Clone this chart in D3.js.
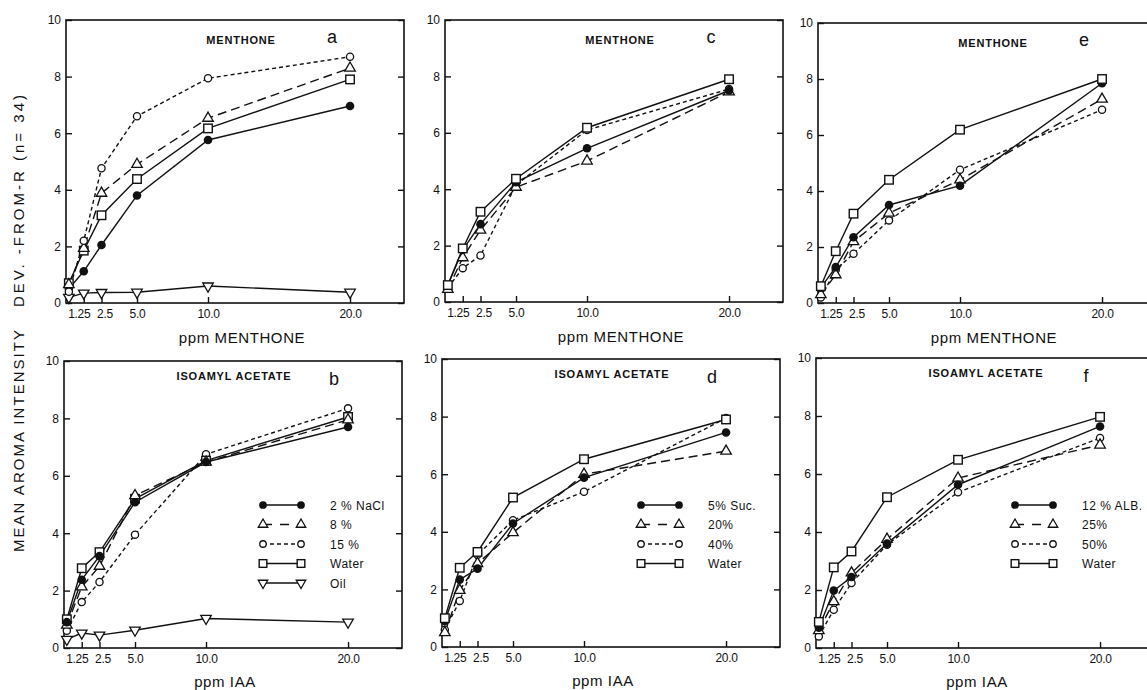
<!DOCTYPE html>
<html>
<head>
<meta charset="utf-8">
<script src="https://cdn.jsdelivr.net/npm/d3@7"></script>
<style>
  body { margin: 0; background: white; }
  text { font-family: "Liberation Sans", Arial, sans-serif; fill: #111; }
</style>
</head>
<body>
<div id="plot"></div>
<script>
// concentrations (ppm) and tick labels
const conc = [0.2, 1.25, 2.5, 5, 10, 20];
const xTicks = [1.25, 2.5, 5, 10, 20];
const xTickLabels = ["1.25", "2.5", "5.0", "10.0", "20.0"];
const yTicks = [0, 2, 4, 6, 8, 10];

// panel a : menthone, NaCl
const aNaCl2 = [0.5, 1.12, 2.05, 3.8, 5.76, 6.96];
const aNaCl8 = [0.65, 1.93, 3.88, 4.9, 6.53, 8.3];
const aNaCl15 = [0.4, 2.2, 4.76, 6.6, 7.94, 8.7];
const aWater = [0.7, 1.85, 3.1, 4.38, 6.17, 7.9];
const aOil = [0.2, 0.35, 0.37, 0.38, 0.6, 0.38];

// panel b : isoamyl acetate, NaCl
const bNaCl2 = [0.9, 2.38, 3.2, 5.08, 6.48, 7.7];
const bNaCl8 = [0.8, 2.13, 2.85, 5.31, 6.48, 7.95];
const bNaCl15 = [0.6, 1.6, 2.3, 3.95, 6.75, 8.35];
const bWater = [1.0, 2.78, 3.34, 5.2, 6.53, 8.05];
const bOil = [0.3, 0.52, 0.45, 0.62, 1.03, 0.9];

// panel c : menthone, sucrose
const cSuc5 = [0.6, 1.85, 2.76, 4.25, 5.45, 7.5];
const cSuc20 = [0.45, 1.57, 2.55, 4.07, 5.0, 7.45];
const cSuc40 = [0.5, 1.2, 1.65, 4.15, 6.1, 7.55];
const cWater = [0.6, 1.9, 3.2, 4.37, 6.18, 7.9];

// panel d : isoamyl acetate, sucrose
const dSuc5 = [0.9, 2.34, 2.72, 4.29, 5.88, 7.45];
const dSuc20 = [0.5, 1.97, 2.9, 3.97, 6.0, 6.8];
const dSuc40 = [0.6, 1.6, 3.2, 4.4, 5.39, 7.95];
const dWater = [1.0, 2.75, 3.3, 5.19, 6.52, 7.9];

// panel e : menthone, albumin
const eAlb12 = [0.55, 1.28, 2.35, 3.5, 4.19, 7.85];
const eAlb25 = [0.3, 1.01, 2.19, 3.21, 4.4, 7.28];
const eAlb50 = [0.2, 1.19, 1.76, 2.95, 4.76, 6.9];
const eWater = [0.6, 1.85, 3.19, 4.4, 6.19, 8.0];

// panel f : isoamyl acetate, albumin
const fAlb12 = [0.7, 1.98, 2.45, 3.6, 5.63, 7.64];
const fAlb25 = [0.6, 1.6, 2.59, 3.75, 5.86, 7.0];
const fAlb50 = [0.4, 1.32, 2.24, 3.56, 5.37, 7.24];
const fWater = [0.9, 2.78, 3.33, 5.2, 6.49, 7.97];

// marker / line styles
const styles = {
  filled: { sym: "circle", dash: null },
  tri: { sym: "triangle", dash: "9,5" },
  open: { sym: "open", dash: "4,3" },
  square: { sym: "square", dash: null },
  down: { sym: "down", dash: null }
};

const panels = [
  { left: 66, top: 20, bottom: 303, title: "MENTHONE", letter: "a", xTitle: "ppm MENTHONE",
    series: [["down", aOil], ["filled", aNaCl2], ["square", aWater], ["tri", aNaCl8], ["open", aNaCl15]] },
  { left: 445, top: 20, bottom: 302, title: "MENTHONE", letter: "c", xTitle: "ppm MENTHONE",
    series: [["open", cSuc40], ["tri", cSuc20], ["filled", cSuc5], ["square", cWater]] },
  { left: 818, top: 23, bottom: 303, title: "MENTHONE", letter: "e", xTitle: "ppm MENTHONE",
    series: [["open", eAlb50], ["tri", eAlb25], ["filled", eAlb12], ["square", eWater]] },
  { left: 64, top: 361, bottom: 648, title: "ISOAMYL ACETATE", letter: "b", xTitle: "ppm IAA",
    series: [["down", bOil], ["open", bNaCl15], ["square", bWater], ["tri", bNaCl8], ["filled", bNaCl2]],
    legend: [["filled", "2 % NaCl"], ["tri", "8 %"], ["open", "15 %"], ["square", "Water"], ["down", "Oil"]] },
  { left: 442, top: 359, bottom: 647, title: "ISOAMYL ACETATE", letter: "d", xTitle: "ppm IAA",
    series: [["open", dSuc40], ["tri", dSuc20], ["filled", dSuc5], ["square", dWater]],
    legend: [["filled", "5% Suc."], ["tri", "20%"], ["open", "40%"], ["square", "Water"]] },
  { left: 816, top: 358, bottom: 648, title: "ISOAMYL ACETATE", letter: "f", xTitle: "ppm IAA",
    series: [["open", fAlb50], ["tri", fAlb25], ["filled", fAlb12], ["square", fWater]],
    legend: [["filled", "12 % ALB."], ["tri", "25%"], ["open", "50%"], ["square", "Water"]] }
];

// small horizontal nudges for the crowded tick labels
const tickNudge = [-5, 3, 0, 0, 0];

const svg = d3.select("#plot").append("svg")
  .attr("width", 1147)
  .attr("height", 690)
  .style("background", "white");

function drawMarker(g, kind, x, y, small) {
  const k = small ? 0.9 : 1;
  if (kind === "circle") {
    g.append("circle").attr("cx", x).attr("cy", y).attr("r", 4.3 * k).attr("fill", "#111");
  } else if (kind === "open") {
    g.append("circle").attr("cx", x).attr("cy", y).attr("r", 3.6 * k)
      .attr("fill", "white").attr("stroke", "#111").attr("stroke-width", 1.3);
  } else if (kind === "square") {
    const s = 8.5 * k;
    g.append("rect").attr("x", x - s / 2).attr("y", y - s / 2).attr("width", s).attr("height", s)
      .attr("fill", "white").attr("stroke", "#111").attr("stroke-width", 1.4);
  } else {
    const sym = d3.symbol().type(d3.symbolTriangle).size(48 * k * k);
    g.append("path").attr("d", sym())
      .attr("transform", `translate(${x},${y})` + (kind === "down" ? " rotate(180)" : ""))
      .attr("fill", "white").attr("stroke", "#111").attr("stroke-width", 1.3);
  }
}

panels.forEach(p => {
  const x = d3.scaleLinear().domain([0, 23.8]).range([p.left, p.left + 338]);
  const y = d3.scaleLinear().domain([0, 10]).range([p.bottom, p.top]);
  const g = svg.append("g");

  // frame
  g.append("rect")
    .attr("x", x(0)).attr("y", y(10))
    .attr("width", x(23.8) - x(0)).attr("height", y(0) - y(10))
    .attr("fill", "none").attr("stroke", "#111").attr("stroke-width", 1.6);

  // axes with inward ticks
  const xAxis = g.append("g").attr("transform", `translate(0,${y(0)})`)
    .call(d3.axisBottom(x).tickValues(xTicks).tickSize(-6).tickPadding(6.5)
      .tickFormat((d, i) => xTickLabels[i]));
  const yAxis = g.append("g").attr("transform", `translate(${x(0)},0)`)
    .call(d3.axisLeft(y).tickValues(yTicks).tickSize(-6).tickPadding(5));
  const yAxisR = g.append("g").attr("transform", `translate(${x(23.8)},0)`)
    .call(d3.axisRight(y).tickValues(yTicks).tickSize(-6).tickFormat(""));
  [xAxis, yAxis, yAxisR].forEach(a => {
    a.select(".domain").remove();
    a.selectAll("line").attr("stroke", "#111").attr("stroke-width", 1.4);
    a.selectAll("text").attr("font-size", 12).attr("fill", "#111")
      .style("font-family", "'Liberation Sans', Arial, sans-serif");
  });
  xAxis.selectAll(".tick text").attr("dx", (d, i) => tickNudge[i]).attr("letter-spacing", -0.3);

  // lines
  p.series.forEach(([kind, vals]) => {
    const line = d3.line().x((d, i) => x(conc[i])).y(d => y(d));
    g.append("path").datum(vals).attr("d", line)
      .attr("fill", "none").attr("stroke", "#111").attr("stroke-width", 1.4)
      .attr("stroke-dasharray", styles[kind].dash);
  });
  // markers
  p.series.forEach(([kind, vals]) => {
    vals.forEach((v, i) => drawMarker(g, styles[kind].sym, x(conc[i]), y(v)));
  });

  // panel texts
  const isTop = p.top < 100;
  g.append("text").attr("x", p.left + (isTop ? 175 : 170)).attr("y", p.top + (isTop ? 24 : 19))
    .attr("text-anchor", "middle").attr("font-size", 11).attr("font-weight", "bold")
    .attr("letter-spacing", 0.8).text(p.title);
  g.append("text").attr("x", p.left + (isTop ? 266 : 270)).attr("y", p.top + (isTop ? 23 : 24))
    .attr("text-anchor", "middle").attr("font-size", 18).text(p.letter);
  g.append("text").attr("x", p.left + (isTop ? 176 : 161)).attr("y", p.bottom + (isTop ? 40 : 39))
    .attr("text-anchor", "middle").attr("font-size", 15).attr("letter-spacing", 0.6).text(p.xTitle);

  // legend
  if (p.legend) {
    p.legend.forEach(([kind, label], i) => {
      const ly = 505 + i * 19.5;
      const x1 = p.left + 199, x2 = p.left + 237;
      g.append("line").attr("x1", x1).attr("x2", x2).attr("y1", ly).attr("y2", ly)
        .attr("stroke", "#111").attr("stroke-width", 1.4)
        .attr("stroke-dasharray", kind === "tri" ? "9,8" : styles[kind].dash);
      drawMarker(g, styles[kind].sym, x1, ly, true);
      drawMarker(g, styles[kind].sym, x2, ly, true);
      g.append("text").attr("x", p.left + 266).attr("y", ly + 4.5)
        .attr("font-size", 12).attr("letter-spacing", 0.5).text(label);
    });
  }
});

// shared y-axis title
svg.append("text").attr("transform", "translate(24,441) rotate(-90)")
  .attr("text-anchor", "middle").attr("font-size", 15)
  .attr("textLength", 222).attr("lengthAdjust", "spacing")
  .text("MEAN AROMA INTENSITY");
svg.append("text").attr("transform", "translate(24,201) rotate(-90)")
  .attr("text-anchor", "middle").attr("font-size", 15)
  .attr("textLength", 212).attr("lengthAdjust", "spacing")
  .text("DEV. -FROM-R (n= 34)");
</script>
</body>
</html>
